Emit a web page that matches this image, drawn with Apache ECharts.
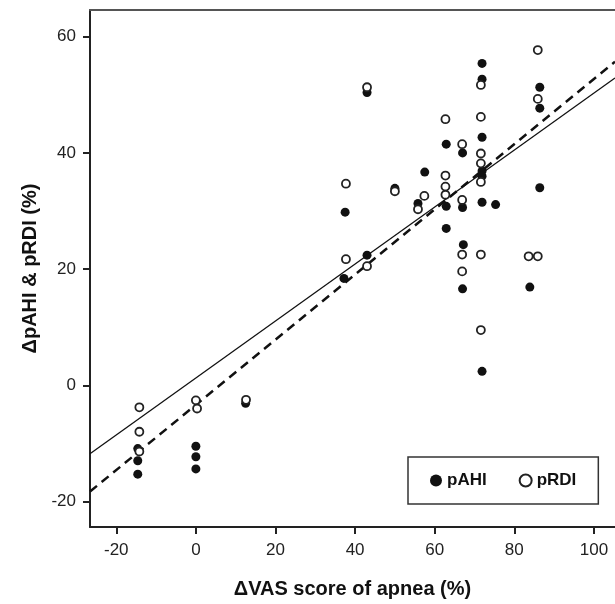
<!DOCTYPE html>
<html>
<head>
<meta charset="utf-8">
<script src="https://cdn.jsdelivr.net/npm/echarts@6/dist/echarts.min.js"></script>
<style>
html,body{margin:0;padding:0;background:#fff;}
#chart{width:615px;height:604px;}
</style>
</head>
<body>
<div id="chart"></div>
<script>
// Values
const xTicks = [-20, 0, 20, 40, 60, 80, 100];
const yTicks = [-20, 0, 20, 40, 60];

const pAHI = [
  [-14.6,-10.9],[-14.6,-13.0],[-14.6,-15.3],
  [0,-10.5],[0,-12.3],[0,-14.4],
  [12.5,-3.1],
  [37.5,29.8],[37.2,18.4],
  [43,50.4],[43,22.4],
  [50,33.9],
  [57.5,36.7],[55.8,31.3],
  [62.9,41.5],[62.9,30.8],[62.9,27.0],
  [67,40.0],[67,30.6],[67.2,24.2],[67,16.6],
  [71.9,55.4],[71.9,52.7],[71.9,42.7],[71.9,36.9],[71.9,36.0],[71.9,31.5],[71.9,2.4],
  [75.3,31.1],
  [83.9,16.9],
  [86.4,51.3],[86.4,47.7],[86.4,34.0]
];

const pRDI = [
  [-14.2,-3.8],[-14.2,-8.0],[-14.2,-11.4],
  [0,-2.6],[0.3,-4.0],
  [12.6,-2.5],
  [37.7,34.7],[37.7,21.7],
  [43,51.3],[43,20.5],
  [50,33.4],
  [57.4,32.6],[55.8,30.3],
  [62.7,45.8],[62.7,36.1],[62.7,34.2],[62.7,32.8],
  [66.9,41.5],[66.9,31.9],[66.9,22.5],[66.9,19.6],
  [71.6,51.7],[71.6,46.2],[71.6,39.9],[71.6,38.2],[71.6,35.0],[71.6,22.5],[71.6,9.5],
  [83.6,22.2],[85.9,22.2],
  [85.9,57.7],[85.9,49.3]
];

// Fitted regression lines (end points)
const fitAHI = [[-26.6,-18.3],[105.3,55.7]];
const fitRDI = [[-26.6,-11.8],[105.3,52.9]];

const xRange = [-26.6, 105.3];
const yRange = [-24.4, 64.6];

const tickFont = "'Liberation Sans Narrow','Arial Narrow','Liberation Sans',Arial,sans-serif";
const boldFont = "'Liberation Sans',Arial,sans-serif";

const chart = echarts.init(document.getElementById('chart'), null, {renderer:'canvas'});
chart.setOption({
  backgroundColor:'#fff',
  animation:false,
  grid:{left:90, top:10, right:0, bottom:75, containLabel:false},
  legend:{
    data:['pAHI','pRDI'],
    left:408, top:457,
    padding:[15,22,15,22],
    itemGap:32,
    itemWidth:12, itemHeight:12,
    itemTextGap:5,
    borderColor:'#333', borderWidth:1.5,
    backgroundColor:'#fff',
    textStyle:{fontFamily:boldFont, fontWeight:'bold', fontSize:17, color:'#111'}
  },
  xAxis:[{
    type:'value', min:xRange[0], max:xRange[1],
    name:'\u0394VAS score of apnea (%)', nameLocation:'middle', nameGap:52,
    nameTextStyle:{fontFamily:boldFont, fontWeight:'bold', fontSize:20, color:'#111'},
    axisLine:{show:true, onZero:false, lineStyle:{color:'#222', width:2}},
    axisTick:{show:true, length:7, customValues:xTicks, lineStyle:{color:'#222', width:2}},
    axisLabel:{customValues:xTicks, margin:15, fontFamily:tickFont, fontSize:17, color:'#222'},
    splitLine:{show:false}
  },{
    type:'value', position:'top', min:xRange[0], max:xRange[1],
    axisLine:{show:true, onZero:false, lineStyle:{color:'#555', width:2}},
    axisTick:{show:false}, axisLabel:{show:false}, splitLine:{show:false}
  }],
  yAxis:{
    type:'value', min:yRange[0], max:yRange[1],
    name:'\u0394pAHI & pRDI (%)', nameLocation:'middle', nameGap:48, nameRotate:90,
    nameTextStyle:{fontFamily:boldFont, fontWeight:'bold', fontSize:20, color:'#111'},
    axisLine:{show:true, onZero:false, lineStyle:{color:'#222', width:2}},
    axisTick:{show:true, length:7, customValues:yTicks, lineStyle:{color:'#222', width:2}},
    axisLabel:{customValues:yTicks, margin:14, fontFamily:tickFont, fontSize:17, color:'#222'},
    splitLine:{show:false}
  },
  series:[
    {
      name:'pAHI fit', type:'line', data:fitAHI, symbol:'none', silent:true,
      lineStyle:{color:'#111', width:2.5, type:[9,6]}, z:2
    },
    {
      name:'pRDI fit', type:'line', data:fitRDI, symbol:'none', silent:true,
      lineStyle:{color:'#111', width:1.3, type:'solid'}, z:2
    },
    {
      name:'pAHI', type:'scatter', data:pAHI, symbol:'circle', symbolSize:9,
      itemStyle:{color:'#111', borderColor:'#111', borderWidth:0, opacity:1}, z:3
    },
    {
      name:'pRDI', type:'scatter', data:pRDI, symbol:'circle', symbolSize:8,
      itemStyle:{color:'#fff', borderColor:'#222', borderWidth:1.8, opacity:1}, z:4
    }
  ]
});
</script>
</body>
</html>
